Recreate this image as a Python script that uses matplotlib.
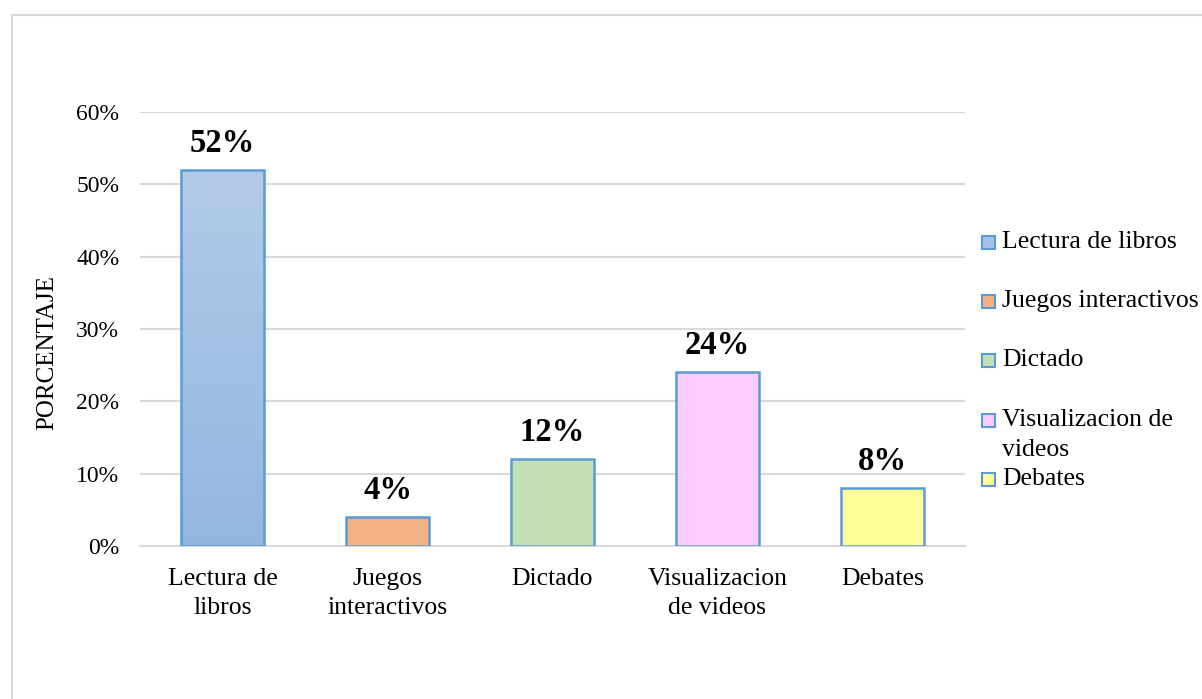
import matplotlib
matplotlib.use("Agg")
import matplotlib.pyplot as plt
import numpy as np
from matplotlib.patches import Rectangle
from matplotlib.colors import LinearSegmentedColormap

categories = ["Lectura de\nlibros", "Juegos\ninteractivos", "Dictado", "Visualizacion\nde videos", "Debates"]
legend_labels = ["Lectura de libros", "Juegos interactivos", "Dictado", "Visualizacion de\nvideos", "Debates"]
values = [0.52, 0.04, 0.12, 0.24, 0.08]
value_labels = ["52%", "4%", "12%", "24%", "8%"]
colors = ["#a6c2e6", "#f4b183", "#c5e0b4", "#ffccff", "#ffff99"]
yticks = [0.0, 0.1, 0.2, 0.3, 0.4, 0.5, 0.6]
ytick_labels = ["0%", "10%", "20%", "30%", "40%", "50%", "60%"]

plt.rcParams['font.family'] = ['Liberation Serif', 'DejaVu Serif']
W, H = 1202, 699
fig = plt.figure(figsize=(W / 100, H / 100), dpi=100)
ax = fig.add_axes([140 / W, 153 / H, 825 / W, (546 - 112) / H])

edge = "#5b9bd5"
x = np.arange(len(values))
bars = ax.bar(x, values, width=0.5, color=colors, edgecolor=edge, linewidth=1.8, zorder=3)

# gradient on first bar
b0 = bars[0]
grad = np.linspace(0, 1, 256).reshape(-1, 1)
cmap = LinearSegmentedColormap.from_list("g", ["#93b6e0", "#b2cbe8"])
bx, by = b0.get_x(), b0.get_y()
im = ax.imshow(grad, cmap=cmap, origin="lower", aspect="auto",
               extent=[bx, bx + b0.get_width(), by, by + b0.get_height()], zorder=3.5)
im.set_clip_path(b0)
b0.set_facecolor("none")
b0.set_zorder(4)

for i, (v, lab) in enumerate(zip(values, value_labels)):
    ax.annotate(lab, (x[i], v), xytext=(0, 8), textcoords="offset points",
                ha="center", va="bottom", fontsize=23.5, fontweight="bold")

ax.set_xlim(-0.5, len(values) - 0.5)
ax.set_ylim(0, 0.6)
ax.set_yticks(yticks)
ax.set_yticklabels(ytick_labels, fontsize=17)
ax.set_xticks(x)
ax.set_xticklabels(categories, fontsize=18.5, linespacing=1.4)
ax.tick_params(axis="both", length=0)
ax.tick_params(axis="y", pad=15)
ax.tick_params(axis="x", pad=16)
ax.grid(axis="y", color="#d9d9d9", linewidth=1.5, zorder=0)
ax.set_axisbelow(True)
for s in ["top", "right", "left"]:
    ax.spines[s].set_visible(False)
ax.spines["bottom"].set_color("#d9d9d9")
ax.spines["bottom"].set_linewidth(1.5)

fig.text(47 / W, 1 - 353 / H, "PORCENTAJE", rotation=90, ha="center", va="center", fontsize=18)

# legend (manual)
leg_y = [242, 301, 360, 420, 479]
for yy, lab, c in zip(leg_y, legend_labels, colors):
    fig.add_artist(Rectangle((982 / W, 1 - (yy + 7) / H), 13 / W, 13 / H,
                             transform=fig.transFigure, facecolor=c, edgecolor=edge, linewidth=1.5))
    if "\n" in lab:
        l1, l2 = lab.split("\n")
        fig.text(1002 / W, 1 - yy / H, l1, ha="left", va="center", fontsize=18.5)
        fig.text(1002 / W, 1 - (yy + 30) / H, l2, ha="left", va="center", fontsize=18.5)
    else:
        fig.text(1002 / W, 1 - yy / H, lab, ha="left", va="center", fontsize=18.5)

# outer chart border
fig.add_artist(Rectangle((12 / W, -0.1), 1.2, 1.1 - 15 / H, transform=fig.transFigure,
                         facecolor="none", edgecolor="#d9d9d9", linewidth=1.5))

fig.savefig("out.png", dpi=100)
